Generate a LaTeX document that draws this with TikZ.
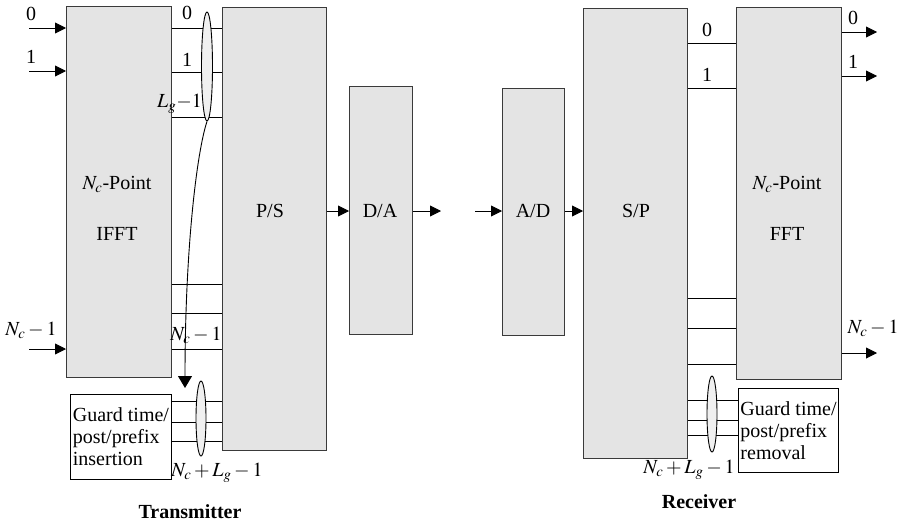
\documentclass[tikz,border=0pt]{standalone}
\usepackage{mathptmx}
\usepackage{fontspec}
\setmainfont{Liberation Serif}
\usetikzlibrary{shapes.geometric,arrows.meta}
\definecolor{blkfill}{HTML}{E4E4E4}
\definecolor{blkline}{HTML}{3A3A3A}
\begin{document}
\begin{tikzpicture}[x=1pt,y=-1pt,
  every node/.style={font=\fontsize{20}{22}\selectfont,inner sep=0pt},
  blk/.style={draw=blkline,fill=blkfill,line width=1.2pt,anchor=north west},
  guard/.style={draw,fill=white,line width=0.9pt,anchor=north west,align=left,inner sep=2pt},
  grp/.style={ellipse,draw,fill=gray!12,line width=0.9pt},
  sig/.style={line width=0.9pt},
  arr/.style={sig,-{Triangle[length=11pt,width=11pt]}}]
\useasboundingbox (0,0) rectangle (899,525);
% transmitter
\node[blk,minimum width=105pt,minimum height=371pt] (ifft) at (66,6) {};
\node[blk,minimum width=104pt,minimum height=443pt] (ps) at (222,7) {};
\node[blk,minimum width=63pt,minimum height=248pt] (da) at (349,86) {};
\node[guard,minimum width=101pt,minimum height=85pt] (gins) at (70,394) {Guard time/\\post/prefix\\insertion};
\node at (117,184) {$N_c$-Point};
\node at (117,234) {IFFT};
\node at (270,211) {P/S};
\node at (380,211) {D/A};
\coordinate (in0) at (29,28);
\coordinate (in1) at (29,71);
\coordinate (inN) at (29,349);
\draw[arr] (in0) -- (ifft.west |- in0);
\draw[arr] (in1) -- (ifft.west |- in1);
\draw[arr] (inN) -- (ifft.west |- inN);
\node at (31,14) {0};
\node at (31,57) {1};
\node at (31,330) {$N_c - 1$};
\foreach \y in {28,72,117,284,313,349}
  \draw[sig] (ifft.east |- 0,\y) -- (ps.west |- 0,\y);
\foreach \y in {401,422,441}
  \draw[sig] (gins.east |- 0,\y) -- (ps.west |- 0,\y);
\node[grp,minimum width=11pt,minimum height=109pt] (gtop) at (207,66.5) {};
\node[grp,minimum width=10pt,minimum height=75pt] (gbot) at (201,418.5) {};
\node at (187,13) {0};
\node at (187,60) {1};
\node[anchor=east] at (202,104) {$L_g{-}1$};
\node at (196,335) {$N_c - 1$};
\coordinate (gtip) at (185,388);
\draw[sig,-{Triangle[length=12pt,width=14pt]}] (gtop.south) .. controls +(-10,30) and +(0,-140) .. (gtip);
\node at (217,473) {$N_c + L_g - 1$};
\coordinate (daout) at (441,211);
\draw[arr] (ps.east |- daout) -- (da.west |- daout);
\draw[arr] (da.east |- daout) -- (daout);
\node[font=\fontsize{20}{22}\selectfont\bfseries] at (190,512) {Transmitter};
% receiver
\node[blk,minimum width=62pt,minimum height=247pt] (ad) at (502,88) {};
\node[blk,minimum width=104pt,minimum height=450pt] (sp) at (583,8) {};
\node[blk,minimum width=105pt,minimum height=372pt] (fft) at (736,7) {};
\node[guard,minimum width=100pt,minimum height=84pt] (grem) at (738,388) {Guard time/\\post/prefix\\removal};
\node at (533,211) {A/D};
\node at (636,211) {S/P};
\node at (787,184) {$N_c$-Point};
\node at (787,234) {FFT};
\coordinate (adin) at (475,211);
\draw[arr] (adin) -- (ad.west |- adin);
\draw[arr] (ad.east |- adin) -- (sp.west |- adin);
\foreach \y in {43,88,298,328,364}
  \draw[sig] (sp.east |- 0,\y) -- (fft.west |- 0,\y);
\foreach \y in {400,420,435}
  \draw[sig] (sp.east |- 0,\y) -- (grem.west |- 0,\y);
\node at (707,30) {0};
\node at (707,75) {1};
\node[grp,minimum width=10pt,minimum height=76pt] (grx) at (712,414) {};
\coordinate (out0) at (877,32);
\coordinate (out1) at (877,76);
\coordinate (outN) at (877,353);
\draw[arr] (fft.east |- out0) -- (out0);
\draw[arr] (fft.east |- out1) -- (out1);
\draw[arr] (fft.east |- outN) -- (outN);
\node at (853,18) {0};
\node at (853,62) {1};
\node at (873,328) {$N_c - 1$};
\node at (689,470) {$N_c + L_g - 1$};
\node[font=\fontsize{20}{22}\selectfont\bfseries] at (699,502) {Receiver};
\end{tikzpicture}
\end{document}
